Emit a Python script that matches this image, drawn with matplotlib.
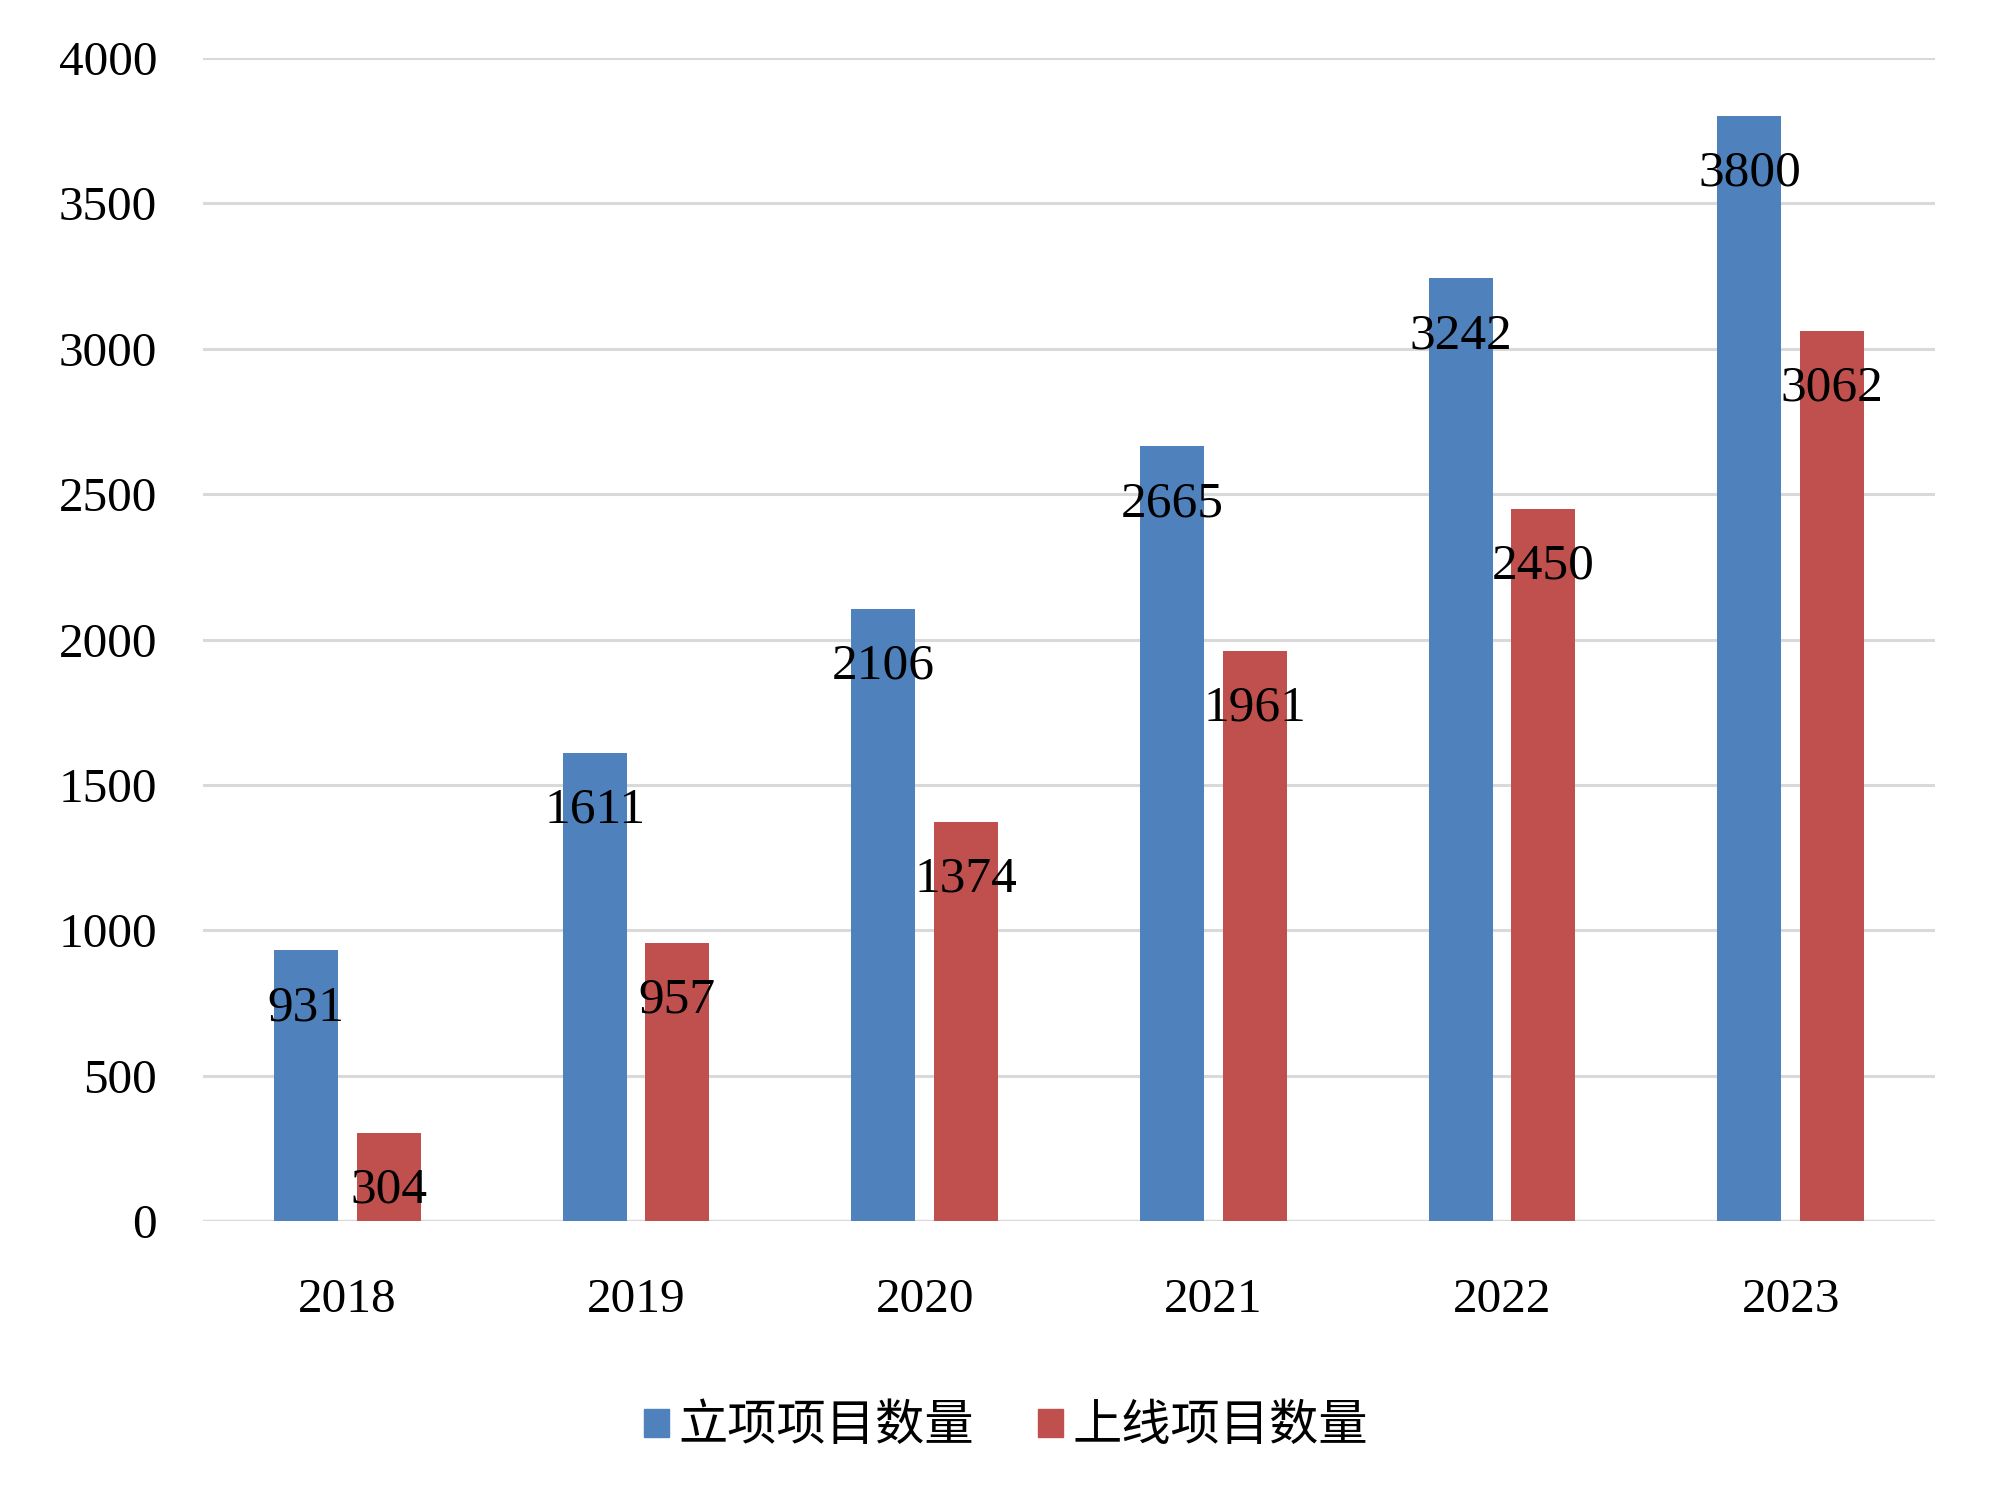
import matplotlib
matplotlib.use("Agg")
import matplotlib.pyplot as plt
import numpy as np
from matplotlib.patches import Patch

years = ["2018", "2019", "2020", "2021", "2022", "2023"]
approved = [931, 1611, 2106, 2665, 3242, 3800]
launched = [304, 957, 1374, 1961, 2450, 3062]
series_names = ["立项项目数量", "上线项目数量"]

BLUE = "#4F81BD"
RED = "#C0504D"
GRID = "#D9D9D9"
NUM_FONT = ["Liberation Serif", "DejaVu Serif"]
CJK_FONT = ["Noto Sans CJK SC", "DejaVu Sans"]


def draw_labels(ax, bars, values):
    for rect, v in zip(bars, values):
        ax.annotate(
            str(v),
            xy=(rect.get_x() + rect.get_width() / 2, rect.get_height()),
            xytext=(0, -41.5),
            textcoords="offset points",
            ha="center",
            va="center",
            fontsize=37,
            family=NUM_FONT,
            color="black",
        )


fig = plt.figure(figsize=(20, 15.01), dpi=100)
ax = fig.add_axes([0.1015, 0.1865, 0.866, 0.7749])

x = np.arange(len(years))
width = 0.222
offset = 0.143

b1 = ax.bar(x - offset, approved, width, color=BLUE, zorder=3)
b2 = ax.bar(x + offset, launched, width, color=RED, zorder=3)
draw_labels(ax, b1, approved)
draw_labels(ax, b2, launched)

ax.set_xlim(-0.5, len(years) - 0.5)
ax.set_ylim(0, 4000)
ax.set_yticks(np.arange(0, 4001, 500))
ax.yaxis.grid(True, color=GRID, linewidth=2.2, zorder=0)
ax.set_axisbelow(True)
for side in ["top", "right", "left", "bottom"]:
    ax.spines[side].set_visible(False)
ax.axhline(0, color=GRID, linewidth=2.4, zorder=1)

ax.set_xticks(x)
ax.set_xticklabels(years)
ax.tick_params(axis="both", length=0, labelsize=35.5)
ax.tick_params(axis="y", pad=33)
ax.tick_params(axis="x", pad=41)
for lab in ax.get_xticklabels() + ax.get_yticklabels():
    lab.set_family(NUM_FONT)

handles = [Patch(color=BLUE), Patch(color=RED)]
fig.legend(
    handles,
    series_names,
    loc="center",
    bbox_to_anchor=(0.503, 0.0497),
    ncol=2,
    frameon=False,
    prop={"family": CJK_FONT, "size": 35.5},
    handlelength=0.5,
    handleheight=0.5,
    handletextpad=0.2,
    columnspacing=1.3,
)

fig.savefig("out.png", dpi=100, facecolor="white")
